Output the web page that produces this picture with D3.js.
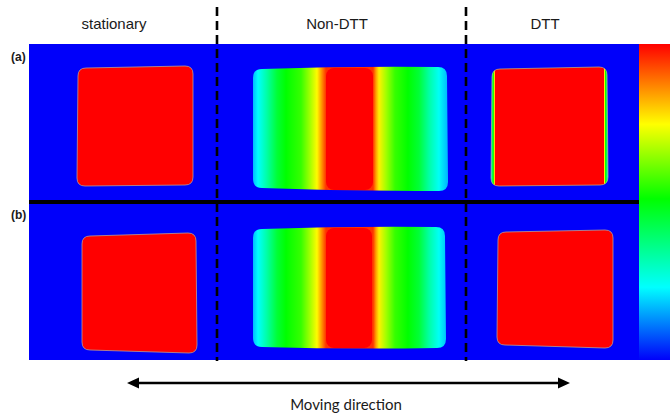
<!DOCTYPE html>
<html>
<head>
<meta charset="utf-8">
<script src="https://cdn.jsdelivr.net/npm/d3@7"></script>
<style>
  body { margin: 0; background: #fff; }
  svg { display: block; }
</style>
</head>
<body>
<svg width="670" height="416"></svg>
<script>
// column headings and where they sit (panel units)
const columns = ['stationary', 'Non-DTT', 'DTT'];
const columnLabelX = [85, 308, 516];
const columnBreaks = [188, 437];
const rowLabels = ['(a)', '(b)'];

// colour bar: normalised level -> colour (bottom to top)
const barLevels = [0, 0.23, 0.51, 0.746, 1];
const barColors = ['#0000fa', '#00ffff', '#00ff00', '#ffff00', '#ff0000'];

// specimen outlines, corners TL, TR, BR, BL in panel units
const stationaryA = [[49, 24], [164, 22], [164, 141], [48, 142]];
const nonDttA = [[224, 25], [418, 23], [419, 147], [224, 144]];
const dttA = [[463, 25], [578, 23], [579, 141], [462, 142]];
const stationaryB = [[53, 32], [167, 29], [168, 149], [53, 146]];
const nonDttB = [[224, 25], [416, 23], [417, 144], [224, 143]];
const dttB = [[469, 28], [584, 26], [584, 144], [468, 141]];

// red core of the Non-DTT specimens [x0, x1, y0, y1]
const coreA = [297, 344, 24, 146];
const coreB = [297, 343, 24, 144];

// level profile across the Non-DTT specimens (offset from left edge, level)
const nonDttOffsets = [0, 5, 14, 24, 33, 48, 57, 64, 69, 73, 120, 123, 126, 133, 142, 155, 166, 176, 186, 194];
const nonDttValues = [0.17, 0.23, 0.33, 0.45, 0.51, 0.56, 0.66, 0.75, 0.86, 0.95, 0.95, 0.84, 0.76, 0.66, 0.56, 0.51, 0.45, 0.33, 0.24, 0.17];

// level profile across the rim of DTT (a)
const dttEdgeOffsets = [0, 1.2, 2.4, 3.4, 4.3, 112.6, 113.5, 114.5, 115.8, 117];
const dttEdgeValues = [0.22, 0.4, 0.52, 0.76, 1, 1, 0.76, 0.52, 0.4, 0.22];

const svg = d3.select('svg');
const defs = svg.append('defs');

const panelLeft = 29, panelRight = 639;
const x = d3.scaleLinear().domain([0, 610]).range([panelLeft, panelRight]);
const rowY = [
  d3.scaleLinear().domain([0, 156]).range([44, 200]),
  d3.scaleLinear().domain([0, 156]).range([204, 360])
];
const levelY = d3.scaleLinear().domain([0, 1]).range([360, 44]);
const colour = d3.scaleLinear().domain(barLevels).range(barColors).interpolate(d3.interpolateRgb);

// blue background of both rows
svg.append('rect')
  .attr('x', x(0)).attr('y', rowY[0](0))
  .attr('width', x(610) - x(0)).attr('height', rowY[1](156) - rowY[0](0))
  .attr('fill', colour(0));

// rounded outline with slightly bowed top / bottom edges
function outline(corners, row, r, bow) {
  const pts = corners.map(p => [x(p[0]), rowY[row](p[1])]);
  const [tl, tr, br, bl] = pts;
  const p = d3.path();
  p.moveTo(tl[0], tl[1] + r);
  p.quadraticCurveTo(tl[0], tl[1], tl[0] + r, tl[1]);
  p.quadraticCurveTo((tl[0] + tr[0]) / 2, (tl[1] + tr[1]) / 2 - 2 * bow, tr[0] - r, tr[1]);
  p.quadraticCurveTo(tr[0], tr[1], tr[0], tr[1] + r);
  p.lineTo(br[0], br[1] - r);
  p.quadraticCurveTo(br[0], br[1], br[0] - r, br[1]);
  p.quadraticCurveTo((br[0] + bl[0]) / 2, (br[1] + bl[1]) / 2 + 2 * bow, bl[0] + r, bl[1]);
  p.quadraticCurveTo(bl[0], bl[1], bl[0], bl[1] - r);
  p.closePath();
  return p.toString();
}

function profileGradient(id, corners, offsets, values) {
  const left = Math.min(corners[0][0], corners[3][0]);
  const g = defs.append('linearGradient')
    .attr('id', id)
    .attr('gradientUnits', 'userSpaceOnUse')
    .attr('x1', x(left)).attr('x2', x(left + offsets[offsets.length - 1]))
    .attr('y1', 0).attr('y2', 0);
  g.selectAll('stop')
    .data(offsets)
    .enter()
    .append('stop')
    .attr('offset', d => d / offsets[offsets.length - 1])
    .attr('stop-color', (d, i) => colour(values[i]));
  return 'url(#' + id + ')';
}

const rim = '#b99a96';

// stationary specimens
[[stationaryA, 0], [stationaryB, 1]].forEach(([c, row]) => {
  svg.append('path')
    .attr('d', outline(c, row, 8, 0))
    .attr('fill', colour(1))
    .attr('stroke', rim)
    .attr('stroke-width', 0.8);
});

// Non-DTT specimens
[[nonDttA, coreA, 0], [nonDttB, coreB, 1]].forEach(([c, core, row]) => {
  svg.append('path')
    .attr('d', outline(c, row, 9, 1))
    .attr('fill', profileGradient('nondtt' + row, c, nonDttOffsets, nonDttValues));
  svg.append('rect')
    .attr('x', x(core[0])).attr('y', rowY[row](core[2]))
    .attr('width', x(core[1]) - x(core[0]))
    .attr('height', rowY[row](core[3]) - rowY[row](core[2]))
    .attr('rx', 8).attr('ry', 8)
    .attr('fill', colour(1));
});

// DTT specimens
svg.append('path')
  .attr('d', outline(dttA, 0, 8, 0))
  .attr('fill', profileGradient('dtta', dttA, dttEdgeOffsets, dttEdgeValues))
  .attr('stroke', '#c8b878')
  .attr('stroke-width', 0.7);
svg.append('path')
  .attr('d', outline(dttB, 1, 8, 0))
  .attr('fill', colour(1))
  .attr('stroke', rim)
  .attr('stroke-width', 0.8);

// divider between (a) and (b)
svg.append('line')
  .attr('x1', x(0)).attr('x2', x(610))
  .attr('y1', 202).attr('y2', 202)
  .attr('stroke', '#000')
  .attr('stroke-width', 4);

// dashed column separators
svg.selectAll('line.sep')
  .data(columnBreaks)
  .enter()
  .append('line')
  .attr('class', 'sep')
  .attr('x1', d => x(d)).attr('x2', d => x(d))
  .attr('y1', 7).attr('y2', 361)
  .attr('stroke', '#000')
  .attr('stroke-width', 2.6)
  .attr('stroke-dasharray', '9,5');

// colour bar
const cb = defs.append('linearGradient')
  .attr('id', 'cbar')
  .attr('gradientUnits', 'userSpaceOnUse')
  .attr('x1', 0).attr('x2', 0)
  .attr('y1', levelY(0)).attr('y2', levelY(1));
cb.selectAll('stop')
  .data(barLevels)
  .enter()
  .append('stop')
  .attr('offset', d => d)
  .attr('stop-color', (d, i) => barColors[i]);
svg.append('rect')
  .attr('x', panelRight).attr('y', levelY(1))
  .attr('width', 670 - panelRight).attr('height', levelY(0) - levelY(1))
  .attr('fill', 'url(#cbar)');

// headings
svg.selectAll('text.col')
  .data(columns)
  .enter()
  .append('text')
  .attr('class', 'col')
  .attr('x', (d, i) => x(columnLabelX[i]))
  .attr('y', 29)
  .attr('text-anchor', 'middle')
  .style('font-family', '"Liberation Sans", Arial, sans-serif')
  .style('font-size', '15px')
  .attr('fill', '#1a1a1a')
  .text(d => d);

svg.selectAll('text.row')
  .data(rowLabels)
  .enter()
  .append('text')
  .attr('class', 'row')
  .attr('x', 11)
  .attr('y', (d, i) => rowY[i](0) + (i === 0 ? 17 : 15))
  .style('font-family', '"Liberation Sans", Arial, sans-serif')
  .style('font-size', '12px')
  .style('font-weight', 'bold')
  .attr('fill', '#1a1a1a')
  .text(d => d);

// moving direction arrow
const arrowY = 383, arrowL = x(98), arrowR = x(541);
svg.append('line')
  .attr('x1', arrowL + 8).attr('x2', arrowR - 8)
  .attr('y1', arrowY).attr('y2', arrowY)
  .attr('stroke', '#000')
  .attr('stroke-width', 2.6);
svg.append('path')
  .attr('d', `M${arrowL},${arrowY}L${arrowL + 12},${arrowY - 5.5}L${arrowL + 12},${arrowY + 5.5}Z` +
             `M${arrowR},${arrowY}L${arrowR - 12},${arrowY - 5.5}L${arrowR - 12},${arrowY + 5.5}Z`)
  .attr('fill', '#000');

svg.append('text')
  .attr('x', 346)
  .attr('y', 410)
  .attr('text-anchor', 'middle')
  .style('font-family', 'Lato, "Open Sans", sans-serif')
  .style('font-size', '15px')
  .attr('fill', '#1a1a1a')
  .text('Moving direction');
</script>
</body>
</html>
